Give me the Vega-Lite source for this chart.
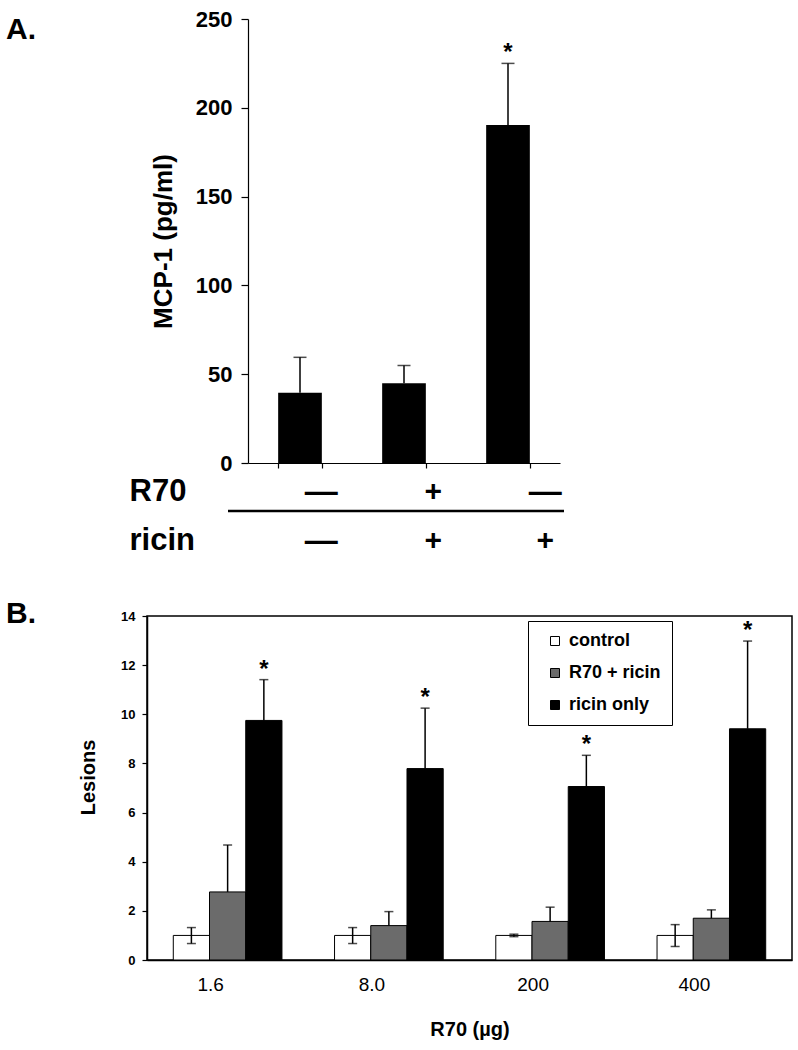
{
  "$schema": "https://vega.github.io/schema/vega-lite/v6.json",
  "padding": {"left": 5, "top": 8, "right": 5, "bottom": 5},
  "config": {
    "font": "Liberation Sans",
    "view": {"stroke": null},
    "axis": {"domainColor": "black", "tickColor": "black", "labelColor": "black", "titleColor": "black", "grid": false},
    "text": {"color": "black"}
  },
  "datasets": {
    "mcp": [
      {"grp": "a", "v": 39.5, "lo": 39.5, "hi": 59.5, "sig": false},
      {"grp": "b", "v": 44.9, "lo": 44.9, "hi": 54.9, "sig": false},
      {"grp": "c", "v": 190.3, "lo": 190.3, "hi": 225, "sig": true}
    ],
    "table": [
      {"grp": "a", "row": "R70", "sign": "—"},
      {"grp": "b", "row": "R70", "sign": "+"},
      {"grp": "c", "row": "R70", "sign": "—"},
      {"grp": "a", "row": "ricin", "sign": "—"},
      {"grp": "b", "row": "ricin", "sign": "+"},
      {"grp": "c", "row": "ricin", "sign": "+"}
    ],
    "lesions": [
      {"dose": "1.6", "series": "control", "v": 1.0, "lo": 0.67, "hi": 1.32, "sig": false},
      {"dose": "1.6", "series": "R70 + ricin", "v": 2.77, "lo": 2.77, "hi": 4.68, "sig": false},
      {"dose": "1.6", "series": "ricin only", "v": 9.75, "lo": 9.75, "hi": 11.41, "sig": true},
      {"dose": "8.0", "series": "control", "v": 1.0, "lo": 0.67, "hi": 1.32, "sig": false},
      {"dose": "8.0", "series": "R70 + ricin", "v": 1.4, "lo": 1.4, "hi": 1.97, "sig": false},
      {"dose": "8.0", "series": "ricin only", "v": 7.79, "lo": 7.79, "hi": 10.25, "sig": true},
      {"dose": "200", "series": "control", "v": 1.0, "lo": 0.95, "hi": 1.05, "sig": false},
      {"dose": "200", "series": "R70 + ricin", "v": 1.57, "lo": 1.57, "hi": 2.15, "sig": false},
      {"dose": "200", "series": "ricin only", "v": 7.06, "lo": 7.06, "hi": 8.33, "sig": true},
      {"dose": "400", "series": "control", "v": 1.0, "lo": 0.55, "hi": 1.44, "sig": false},
      {"dose": "400", "series": "R70 + ricin", "v": 1.7, "lo": 1.7, "hi": 2.04, "sig": false},
      {"dose": "400", "series": "ricin only", "v": 9.41, "lo": 9.41, "hi": 12.98, "sig": true}
    ]
  },
  "resolve": {"scale": {"fill": "independent"}, "legend": {"fill": "independent"}},
  "align": "each",
  "spacing": 0,
  "vconcat": [
    {
      "bounds": "flush",
      "spacing": 0,
      "hconcat": [
        {"width": 101, "height": 444, "data": {"values": []}, "mark": {"type": "text"}, "encoding": {}},
        {
          "title": {"text": "A.", "anchor": "start", "frame": "group", "dx": -242, "dy": 61, "offset": 0, "fontSize": 30, "fontWeight": "bold", "baseline": "alphabetic", "color": "black"},
          "width": 312,
          "height": 444,
          "data": {"name": "mcp"},
          "encoding": {
            "x": {"field": "grp", "type": "nominal", "scale": {"domain": ["a", "b", "c"], "paddingInner": 0.58, "paddingOuter": 0.29},
              "axis": {"labels": false, "title": null, "tickBand": "extent", "tickSize": 5, "domainWidth": 1.2, "tickWidth": 1.2}}
          },
          "layer": [
            {
              "mark": {"type": "bar", "color": "black"},
              "encoding": {
                "y": {"field": "v", "type": "quantitative", "scale": {"domain": [0, 250], "nice": false},
                  "axis": {"title": "MCP-1 (pg/ml)", "values": [0, 50, 100, 150, 200, 250], "labelFontSize": 22, "labelFontWeight": "bold", "tickSize": 7, "labelPadding": 9, "titleFontSize": 26, "titleFontWeight": "bold", "titlePadding": 19, "domainWidth": 1.2, "tickWidth": 1.2}}
              }
            },
            {
              "mark": {"type": "rule", "color": "black", "strokeWidth": 1.5},
              "encoding": {"y": {"field": "lo", "type": "quantitative"}, "y2": {"field": "hi"}}
            },
            {
              "mark": {"type": "tick", "color": "black", "size": 13, "thickness": 1.5},
              "encoding": {"y": {"field": "hi", "type": "quantitative"}}
            },
            {
              "transform": [{"filter": "datum.sig"}],
              "mark": {"type": "text", "text": "*", "fontSize": 24, "fontWeight": "bold", "baseline": "alphabetic", "dy": -3},
              "encoding": {"y": {"field": "hi", "type": "quantitative"}}
            }
          ]
        }
      ]
    },
    {
      "bounds": "flush",
      "spacing": 0,
      "hconcat": [
        {"width": 81, "height": 123, "data": {"values": []}, "mark": {"type": "text"}, "encoding": {}},
        {
          "width": 336,
          "height": 123,
          "data": {"name": "table"},
          "encoding": {
            "y": {"field": "row", "type": "nominal", "scale": {"domain": ["R70", "ricin"], "paddingInner": 0.265, "paddingOuter": 0.3876, "align": 0},
              "axis": {"title": null, "labelFontSize": 31, "labelFontWeight": "bold", "labelAlign": "left", "labelBaseline": "middle", "labelPadding": 99, "ticks": false, "tickSize": 0, "domain": false}}
          },
          "layer": [
            {
              "transform": [{"filter": "datum.sign == '+'"}],
              "mark": {"type": "text", "fontSize": 30, "fontWeight": "bold"},
              "encoding": {
                "x": {"field": "grp", "type": "nominal", "scale": {"domain": ["a", "b", "c"], "paddingInner": 0, "paddingOuter": 0.1154, "align": 0.833}, "axis": null},
                "text": {"field": "sign"}
              }
            },
            {
              "transform": [{"filter": "datum.sign != '+'"}],
              "mark": {"type": "text", "fontSize": 33, "fontWeight": "bold"},
              "encoding": {
                "x": {"field": "grp", "type": "nominal", "axis": null},
                "text": {"field": "sign"}
              }
            },
            {
              "data": {"values": [{"row": "R70"}]},
              "mark": {"type": "rule", "color": "black", "strokeWidth": 2.5},
              "encoding": {"y": {"field": "row", "type": "nominal", "bandPosition": 1.028}}
            }
          ]
        }
      ]
    },
    {
      "title": {"text": "B.", "anchor": "start", "frame": "group", "dx": -141, "dy": 42.5, "offset": 0, "fontSize": 30, "fontWeight": "bold", "baseline": "alphabetic", "color": "black"},
      "width": 645,
      "height": 344,
      "view": {"stroke": "black", "strokeWidth": 1.5},
      "data": {"name": "lesions"},
      "encoding": {
        "x": {"field": "dose", "type": "nominal", "sort": ["1.6", "8.0", "200", "400"], "scale": {"paddingInner": 0.326, "paddingOuter": 0.163},
          "axis": {"title": "R70 (µg)", "labelAngle": 0, "labelFontSize": 19, "labelFontWeight": "normal", "labelOffset": -17, "labelPadding": 15, "ticks": false, "titleFontSize": 20, "titleFontWeight": "bold", "titlePadding": 25, "domainWidth": 1.5}},
        "xOffset": {"field": "series", "type": "nominal", "sort": ["control", "R70 + ricin", "ricin only"], "scale": {"paddingInner": 0, "paddingOuter": 0}}
      },
      "layer": [
        {
          "mark": {"type": "bar", "stroke": "black", "strokeWidth": 1},
          "encoding": {
            "y": {"field": "v", "type": "quantitative", "scale": {"domain": [0, 14], "nice": false},
              "axis": {"title": "Lesions", "values": [0, 2, 4, 6, 8, 10, 12, 14], "labelFontSize": 13, "labelFontWeight": "bold", "tickSize": 5, "labelPadding": 7, "titleFontSize": 20, "titleFontWeight": "bold", "titlePadding": 22, "titleY": 161, "domainWidth": 1.5, "tickWidth": 1.2}},
            "fill": {"field": "series", "type": "nominal", "sort": ["control", "R70 + ricin", "ricin only"],
              "scale": {"domain": ["control", "R70 + ricin", "ricin only"], "range": ["white", "#6b6b6b", "black"]},
              "legend": {"orient": "none", "legendX": 381, "legendY": 5, "direction": "vertical", "title": null, "symbolType": "square", "symbolSize": 81, "symbolStrokeColor": "black", "symbolStrokeWidth": 1, "labelFontSize": 18, "labelFontWeight": "bold", "labelColor": "black", "padding": 11, "rowPadding": 14, "symbolOffset": 7, "labelOffset": 5, "strokeColor": "black", "fillColor": "white"}}
          }
        },
        {
          "mark": {"type": "rule", "color": "black", "strokeWidth": 1.5},
          "encoding": {"y": {"field": "lo", "type": "quantitative"}, "y2": {"field": "hi"}}
        },
        {
          "mark": {"type": "tick", "color": "black", "size": 9, "thickness": 1.5},
          "encoding": {"y": {"field": "hi", "type": "quantitative"}}
        },
        {
          "transform": [{"filter": "datum.lo < datum.v"}],
          "mark": {"type": "tick", "color": "black", "size": 9, "thickness": 1.5},
          "encoding": {"y": {"field": "lo", "type": "quantitative"}}
        },
        {
          "transform": [{"filter": "datum.sig"}],
          "mark": {"type": "text", "text": "*", "fontSize": 24, "fontWeight": "bold", "baseline": "alphabetic", "dy": -3},
          "encoding": {"y": {"field": "hi", "type": "quantitative"}}
        }
      ]
    }
  ]
}
